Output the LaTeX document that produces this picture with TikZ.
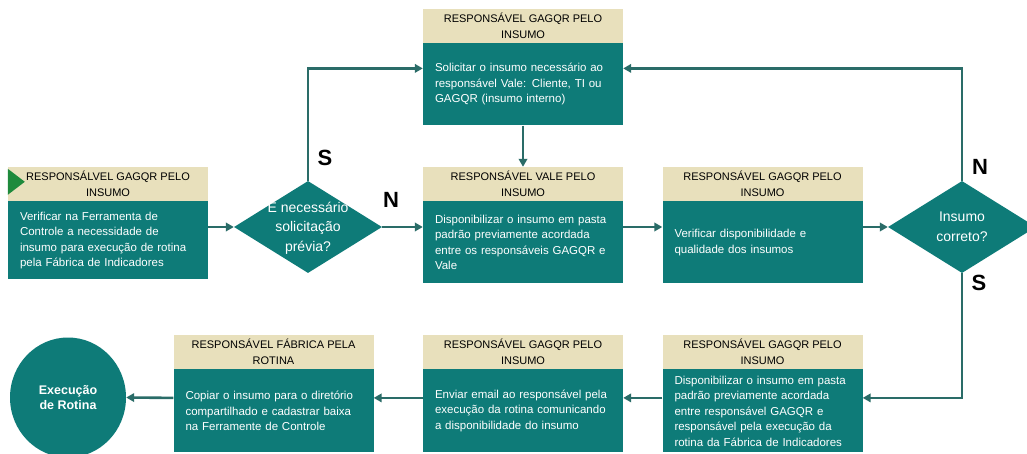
\documentclass[tikz,border=0pt]{standalone}
\usepackage{fontspec}
\setmainfont{Liberation Sans}
\usetikzlibrary{positioning,arrows.meta,shapes.geometric}
\definecolor{tealbody}{HTML}{0E7B78}
\definecolor{headbeige}{HTML}{E8E0BC}
\definecolor{arrowteal}{HTML}{2A6C68}
\definecolor{playgreen}{HTML}{1E8A3C}

\tikzset{
  hdr/.style={fill=headbeige, minimum width=200pt, minimum height=34pt, inner sep=0pt, align=center, font=\fontsize{11}{16}\selectfont},
  body/.style={fill=tealbody, text=white, minimum width=200pt, inner xsep=12pt, inner ysep=0pt, text width=176pt, align=left, font=\fontsize{11.5}{15.5}\selectfont},
  decision/.style={diamond, fill=tealbody, minimum width=148pt, minimum height=92pt, inner sep=0pt},
  dtext/.style={text=white, align=center, font=\fontsize{14}{19.5}\selectfont},
  endpt/.style={ellipse, fill=tealbody, text=white, minimum width=116pt, minimum height=120pt, align=center, font=\fontsize{12.5}{15.5}\selectfont\bfseries},
  lbl/.style={font=\fontsize{22}{22}\selectfont\bfseries},
  arr/.style={draw=arrowteal, line width=2.6pt, -{Triangle[length=8pt,width=8.5pt]}}
}

\begin{document}
\begin{tikzpicture}[x=1pt,y=-1pt]
\path[use as bounding box, fill=white] (0,0) rectangle (1027,454);
\clip (0,0) rectangle (1027,454);

\node[hdr] (h1) at (108,184) {RESPONSÁLVEL GAGQR PELO\\INSUMO};
\node[body, minimum height=78pt, below=0pt of h1] (b1) {Verificar na Ferramenta de\\Controle a necessidade de\\insumo para execução de rotina\\pela Fábrica de Indicadores};
\fill[playgreen] ([yshift=-2pt]h1.north west) -- ++(17,13) -- ++(-17,13) -- cycle;

\node[hdr] (h2) at (523,26) {RESPONSÁVEL GAGQR PELO\\INSUMO};
\node[body, minimum height=82pt, below=0pt of h2] (b2) {Solicitar o insumo necessário ao\\responsável Vale: Cliente, TI ou\\GAGQR (insumo interno)};

\node[hdr] (h3) at (523,184) {RESPONSÁVEL VALE PELO\\INSUMO};
\node[body, minimum height=82pt, below=0pt of h3] (b3) {Disponibilizar o insumo em pasta\\padrão previamente acordada\\entre os responsáveis GAGQR e\\Vale};

\node[hdr] (h4) at (762.5,184) {RESPONSÁVEL GAGQR PELO\\INSUMO};
\node[body, minimum height=82pt, below=0pt of h4] (b4) {Verificar disponibilidade e\\qualidade dos insumos};

\node[decision, label={[dtext]center:{É necessário\\solicitação\\prévia?}}] (d1) at (308,227) {};
\node[decision, label={[dtext]center:{Insumo\\correto?}}] (d2) at (962,227) {};

\node[hdr] (h5) at (762.5,352) {RESPONSÁVEL GAGQR PELO\\INSUMO};
\node[body, minimum height=83pt, below=0pt of h5] (b5) {Disponibilizar o insumo em pasta\\padrão previamente acordada\\entre responsável GAGQR e\\responsável pela execução da\\rotina da Fábrica de Indicadores};

\node[hdr] (h6) at (523,352) {RESPONSÁVEL GAGQR PELO\\INSUMO};
\node[body, minimum height=83pt, below=0pt of h6] (b6) {Enviar email ao responsável pela\\execução da rotina comunicando\\a disponibilidade do insumo};

\node[hdr] (h7) at (273.5,352) {RESPONSÁVEL FÁBRICA PELA\\ROTINA};
\node[body, minimum height=83pt, below=0pt of h7] (b7) {Copiar o insumo para o diretório\\compartilhado e cadastrar baixa\\na Ferramente de Controle};

\node[endpt] (e1) at (68,397.5) {Execução\\de Rotina};

\node[lbl] (s1) at (325,158) {S};
\node[lbl] (n1) at (391,200) {N};
\node[lbl] (n2) at (980,167) {N};
\node[lbl] (s2) at (979,283) {S};

\draw[arr] (d1.west -| b1.east) -- (d1.west);
\draw[arr] (d1.east) -- (d1.east -| b3.west);
\draw[arr] (d1.north) |- ([yshift=16pt]b2.west);
\draw[arr] (b2.south) -- (h3.north);
\draw[arr] (d1.east -| b3.east) -- (d1.east -| b4.west);
\draw[arr] (d2.west -| b4.east) -- (d2.west);
\draw[arr] (d2.north) |- ([yshift=16pt]b2.east);
\draw[arr] (d2.south) |- ([yshift=13pt]b5.east);
\draw[arr] ([yshift=13pt]b5.west) -- ([yshift=13pt]b6.east);
\draw[arr] ([yshift=13pt]b6.west) -- ([yshift=13pt]b7.east);
\draw[arr] ([yshift=13pt]b7.west) -- (e1.east);
\end{tikzpicture}
\end{document}
